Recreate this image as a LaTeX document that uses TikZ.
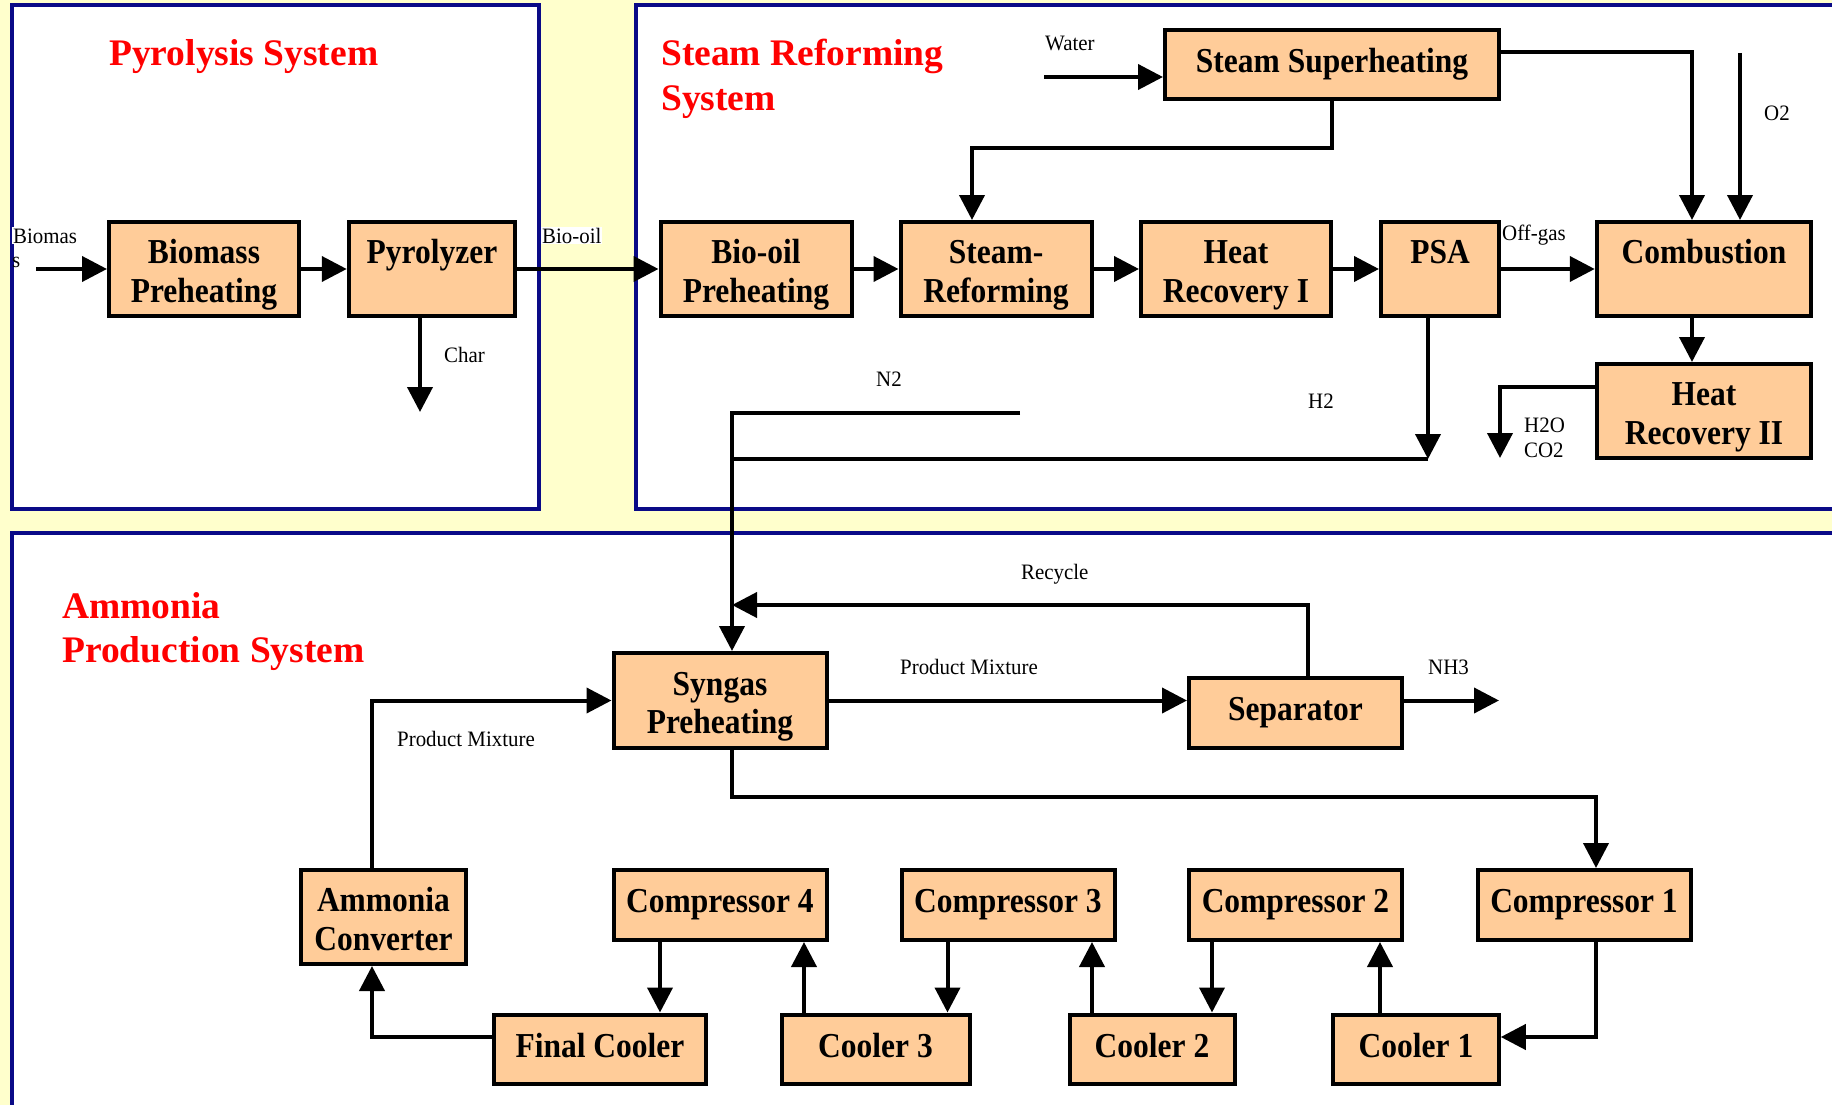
\documentclass[tikz,border=0pt]{standalone}
\usepackage{fontspec}
\setmainfont{Liberation Serif}
\newfontfamily\boxfont[FakeStretch=0.9]{Liberation Serif}
\newfontfamily\labfont[FakeStretch=0.95]{Liberation Serif}
\usetikzlibrary{arrows.meta}
\definecolor{bgyellow}{RGB}{255,255,204}
\definecolor{peach}{RGB}{255,204,153}
\definecolor{framenavy}{RGB}{10,10,135}
\newcommand\topst{\rule{0pt}{36pt}}
\newcommand\botst{\rule[-8pt]{0pt}{8pt}}
\tikzset{
  proc/.style={draw=black, line width=4pt, fill=peach, inner sep=0pt, align=center,
    font=\boxfont\bfseries\fontsize{35}{38.5}\selectfont},
  lab/.style={font=\labfont\fontsize{22}{24}\selectfont, inner sep=0pt, anchor=base west},
  ttl/.style={font=\bfseries\fontsize{37.5}{45}\selectfont, text=red, inner sep=0pt, anchor=base west},
  arr/.style={line width=4pt, -{Triangle[length=25pt,width=25pt]}},
  pline/.style={line width=4pt},
  frame/.style={draw=framenavy, line width=4.5pt, fill=white}
}
\begin{document}
\begin{tikzpicture}[x=1pt,y=-1pt]
\useasboundingbox (0,0) rectangle (1832,1105);
\clip (0,0) rectangle (1832,1105);
\fill[bgyellow] (0,0) rectangle (1832,1105);
% system frames
\draw[frame] (12,5) rectangle (539,509);
\draw[frame] (636,5) rectangle (1900,509);
\draw[frame] (12,533) rectangle (1900,1200);

% titles
\node[ttl] (t1) at (109,66) {Pyrolysis System};
\node[ttl] (t2a) at (661,66) {Steam Reforming};
\node[ttl] (t2b) at (661,111) {System};
\node[ttl] (t3a) at (62,618) {Ammonia};
\node[ttl] (t3b) at (62,662) {Production System};

% process boxes
\node[proc, minimum width=190pt, minimum height=94pt] (bp) at (204,269) {\topst Biomass\\Preheating\botst};
\node[proc, minimum width=166.5pt, minimum height=94pt] (pyr) at (432,269) {\topst Pyrolyzer\\\botst};
\node[proc, minimum width=191pt, minimum height=94pt] (bop) at (756,269) {\topst Bio-oil\\Preheating\botst};
\node[proc, minimum width=191pt, minimum height=94pt] (sr) at (996,269) {\topst Steam-\\Reforming\botst};
\node[proc, minimum width=190pt, minimum height=94pt] (hr1) at (1236,269) {\topst Heat\\Recovery I\botst};
\node[proc, minimum width=118pt, minimum height=94pt] (psa) at (1440,269) {\topst PSA\\\botst};
\node[proc, minimum width=214.5pt, minimum height=94pt] (comb) at (1704,269) {\topst Combustion\\\botst};
\node[proc, minimum width=214.5pt, minimum height=94pt] (hr2) at (1704,411) {\topst Heat\\Recovery II\botst};
\node[proc, minimum width=334pt, minimum height=69pt] (ssh) at (1332,64.5) {Steam Superheating\botst};
\node[proc, minimum width=213pt, minimum height=95pt] (syn) at (720,700.5) {\topst Syngas\\Preheating\botst};
\node[proc, minimum width=213pt, minimum height=70pt] (sep) at (1295.5,713) {Separator\botst};
\node[proc, minimum width=165pt, minimum height=94pt] (ac) at (383.5,917) {\topst Ammonia\\Converter\botst};
\node[proc, minimum width=213pt, minimum height=70pt] (c4) at (720,905) {Compressor 4\botst};
\node[proc, minimum width=213pt, minimum height=70pt] (c3) at (1008,905) {Compressor 3\botst};
\node[proc, minimum width=213pt, minimum height=70pt] (c2) at (1295.5,905) {Compressor 2\botst};
\node[proc, minimum width=213pt, minimum height=70pt] (c1) at (1584,905) {Compressor 1\botst};
\node[proc, minimum width=212.5pt, minimum height=69pt] (fc) at (600,1049) {Final Cooler\botst};
\node[proc, minimum width=188pt, minimum height=69pt] (cl3) at (875.5,1049) {Cooler 3\botst};
\node[proc, minimum width=165pt, minimum height=69pt] (cl2) at (1152,1049) {Cooler 2\botst};
\node[proc, minimum width=165.5pt, minimum height=69pt] (cl1) at (1416,1049) {Cooler 1\botst};

% pyrolysis connectors
\coordinate (bioin) at (36,269);
\draw[arr] (bioin) -- (bp.west);
\draw[arr] (bp.east) -- (pyr.west);
\draw[arr] (pyr.east) -- (bop.west);
\coordinate (chs) at ([xshift=-12pt]pyr.south);
\coordinate (chare) at (420,412);
\draw[arr] (chs) -- (chare);

% steam reforming connectors
\draw[arr] (bop.east) -- (sr.west);
\draw[arr] (sr.east) -- (hr1.west);
\draw[arr] (hr1.east) -- (psa.west);
\draw[arr] (psa.east) -- (comb.west);
\coordinate (win) at (1044,77);
\draw[arr] (win) -- (win -| ssh.west);
\coordinate (srin) at ([xshift=-24pt]sr.north);
\coordinate (stm) at (972,148);
\draw[arr] (ssh.south) |- (stm) -- (srin);
\coordinate (sse) at ([yshift=12.5pt]ssh.east);
\coordinate (cin1) at ([xshift=-12pt]comb.north);
\draw[arr] (sse) -| (cin1);
\coordinate (cin2) at ([xshift=36pt]comb.north);
\coordinate (o2) at (1740,53);
\draw[arr] (o2) -- (cin2);
\coordinate (cs) at ([xshift=-12pt]comb.south);
\draw[arr] (cs) -- (cs |- hr2.north);
\coordinate (hw) at ([yshift=24pt]hr2.west);
\coordinate (exh) at (1500,458);
\draw[arr] (hw) -| (exh);
\coordinate (ps) at ([xshift=-12pt]psa.south);
\coordinate (h2c) at (1428,459);
\draw[arr] (ps) -- (h2c);
\coordinate (n2in) at (1020,413);
\coordinate (sn) at ([xshift=12pt]syn.north);
\draw[arr] (n2in) -| (sn);
\draw[pline] (h2c) -- (h2c -| sn);

% ammonia connectors
\coordinate (sepn) at ([xshift=12.5pt]sep.north);
\coordinate (rcy) at (0,605);
\draw[arr] (sepn) |- (sn |- rcy);
\draw[arr] (syn.east) -- (syn.east -| sep.west);
\coordinate (nh3) at (1499,700.5);
\draw[arr] (syn.east -| sep.east) -- (nh3);
\coordinate (ss) at ([xshift=12pt]syn.south);
\coordinate (c1n) at ([xshift=12pt]c1.north);
\coordinate (ly) at (0,797);
\draw[arr] (ss) |- (c1n |- ly) -- (c1n);
\coordinate (c1s) at ([xshift=12pt]c1.south);
\coordinate (cl1e) at ([yshift=12pt]cl1.east);
\draw[arr] (c1s) |- (cl1e);
\coordinate (a1) at ([xshift=-36pt]cl1.north);
\draw[arr] (a1) -- (a1 |- c2.south);
\coordinate (a2) at ([xshift=60pt]cl2.north);
\draw[arr] (a2 |- c2.south) -- (a2);
\coordinate (a3) at ([xshift=-60pt]cl2.north);
\draw[arr] (a3) -- (a3 |- c3.south);
\coordinate (a4) at ([xshift=72pt]cl3.north);
\draw[arr] (a4 |- c3.south) -- (a4);
\coordinate (a5) at ([xshift=-71.5pt]cl3.north);
\draw[arr] (a5) -- (a5 |- c4.south);
\coordinate (a6) at ([xshift=60pt]fc.north);
\draw[arr] (a6 |- c4.south) -- (a6);
\coordinate (fw) at ([yshift=12pt]fc.west);
\coordinate (acs) at ([xshift=-11.5pt]ac.south);
\draw[arr] (fw) -| (acs);
\coordinate (acn) at ([xshift=-11.5pt]ac.north);
\draw[arr] (acn) |- (syn.west);

% stream labels
\node[lab, fill=white, inner sep=1pt] (lbio) at (12,243) {Biomas};
\node[lab] (lbio2) at (12,267) {s};
\node[lab, fill=white, inner sep=1pt] (lboil) at (541,243) {Bio-oil\hspace{10pt}};
\node[lab] (lchar) at (444,362) {Char};
\node[lab] (lwater) at (1045,51) {Water};
\node[lab] (ln2) at (876,386) {N2};
\node[lab] (lo2) at (1764,121) {O2};
\node[lab, fill=white, inner sep=1pt] (loff) at (1501,240.5) {Off-gas};
\node[lab] (lh2) at (1308,408) {H2};
\node[lab] (lh2o) at (1524,432) {H2O};
\node[lab] (lco2) at (1524,457) {CO2};
\node[lab] (lrec) at (1021,579) {Recycle};
\node[lab] (lpm1) at (900,674) {Product Mixture};
\node[lab] (lnh3) at (1428,674) {NH3};
\node[lab] (lpm2) at (397,746) {Product Mixture};
\end{tikzpicture}
\end{document}
